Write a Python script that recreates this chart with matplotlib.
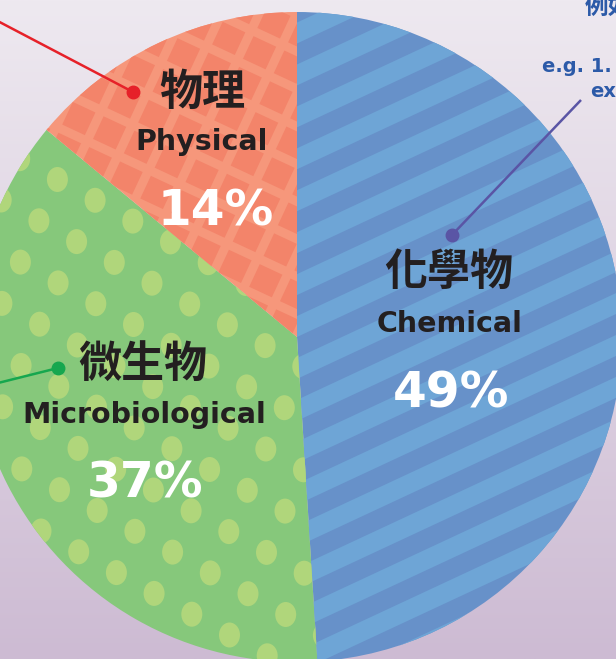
import numpy as np
import matplotlib.pyplot as plt
import matplotlib.colors as mcolors
from matplotlib.patches import Rectangle, Ellipse
from matplotlib.collections import PatchCollection, PolyCollection

plt.rcParams['font.family'] = ['DejaVu Sans']

W, H = 616, 659

# data
labels_zh = ["化學物", "微生物", "物理"]
labels_en = ["Chemical", "Microbiological", "Physical"]
shares = [49, 37, 14]
base_colors = ["#6791c9", "#86c87b", "#f6977b"]
pattern_colors = ["#6ea5d6", "#b0d67b", "#f3846a"]
leader_colors = ["#5a55a5", "#16a74f", "#e62129"]

fig = plt.figure(figsize=(W / 100, H / 100), dpi=100)
ax = fig.add_axes([0, 0, 1, 1])

# background gradient
grad = np.linspace(0, 1, 256)[:, None, None]
top = np.array(mcolors.to_rgb("#eee9f0"))
bot = np.array(mcolors.to_rgb("#cdbbd3"))
img = top + (bot - top) * grad
ax.imshow(img, extent=[0, W, 0, H], aspect='auto', zorder=0, origin='upper')

# pie (image coords -> y up)
cx, cy, R = 297, H - 337, 325
wedges, _ = ax.pie(shares, colors=base_colors, startangle=90, counterclock=False,
                   center=(cx, cy), radius=R, frame=True,
                   wedgeprops=dict(linewidth=0))
ax.set_xlim(0, W)
ax.set_ylim(0, H)
ax.set_aspect('auto')
ax.axis('off')

# chemical: diagonal stripes
ang = np.radians(25)
d = np.array([np.cos(ang), np.sin(ang)])
n = np.array([-np.sin(ang), np.cos(ang)])
P = 38
c0 = np.array([cx, cy])
polys = []
for k in range(-12, 13):
    s0 = k * P
    s1 = s0 + P / 2
    polys.append([c0 + s0 * n - 2 * R * d, c0 + s0 * n + 2 * R * d,
                  c0 + s1 * n + 2 * R * d, c0 + s1 * n - 2 * R * d])
stripes = PolyCollection(polys, facecolors=pattern_colors[0], edgecolors='none', zorder=2)
ax.add_collection(stripes)
stripes.set_clip_path(wedges[0])

# microbiological: dots
a = np.array([37.7, -20.8])
b = np.array([-18.5, -41.3])
o = np.array([41, H - 531])
dots = []
for i in range(-16, 17):
    for j in range(-16, 17):
        p = o + i * a + j * b
        if -30 < p[0] < W + 30 and -30 < p[1] < H + 30:
            dots.append(Ellipse(p, 21, 25))
dotcol = PatchCollection(dots, facecolors=pattern_colors[1], edgecolors='none', zorder=2)
ax.add_collection(dotcol)
dotcol.set_clip_path(wedges[1])

# physical: tilted squares
phi = np.radians(-25)
u = np.array([np.cos(phi), np.sin(phi)])
v = np.array([-np.sin(phi), np.cos(phi)])
side, pitch = 25, 34
o2 = np.array([200, H - 100])
sq = []
for i in range(-12, 13):
    for j in range(-12, 13):
        c = o2 + i * pitch * u + j * pitch * v
        corner = c - side / 2 * u - side / 2 * v
        sq.append(Rectangle(corner, side, side, angle=np.degrees(phi)))
sqcol = PatchCollection(sq, facecolors=pattern_colors[2], edgecolors='none', zorder=2)
ax.add_collection(sqcol)
sqcol.set_clip_path(wedges[2])

# leader lines (image coords)
leaders = [((581, 100), (452, 235)), ((-10, 385), (58, 368)), ((-10, 17), (133, 92))]
for (p0, p1), col in zip(leaders, leader_colors):
    ax.plot([p0[0], p1[0]], [H - p0[1], H - p1[1]], color=col, lw=1.8, zorder=4,
            solid_capstyle='butt')
    ax.plot(p1[0], H - p1[1], 'o', ms=9, color=col, zorder=5)

# labels
cjk = ['Noto Sans CJK TC', 'DejaVu Sans']
zh_pos = [(449, 272), (143, 364), (202, 92)]
en_pos = [(450, 332), (144, 423), (202, 150)]
pct_pos = [(451, 407), (145, 497), (216, 225)]
for k in range(3):
    ax.text(zh_pos[k][0], H - zh_pos[k][1], labels_zh[k], family=cjk, weight='bold',
            fontsize=31, color='#231f20', ha='center', va='center', zorder=6)
    ax.text(en_pos[k][0], H - en_pos[k][1], labels_en[k], fontsize=20.5, weight='bold',
            color='#231f20', ha='center', va='baseline', zorder=6)
    ax.text(pct_pos[k][0], H - pct_pos[k][1], f"{shares[k]}%", fontsize=35, weight='bold',
            color='white', ha='center', va='baseline', zorder=6)

# cut-off notes at top right
blue = '#2c5aa8'
ax.text(585, H - 14, "例如", family=cjk, weight='bold', fontsize=17, color=blue,
        ha='left', va='baseline', zorder=6)
ax.text(542, H - 72, "e.g. 1.", fontsize=14, weight='bold', color=blue,
        ha='left', va='baseline', zorder=6)
ax.text(590, H - 97, "ex", fontsize=14, weight='bold', color=blue,
        ha='left', va='baseline', zorder=6)

fig.savefig("out.png", dpi=100)
